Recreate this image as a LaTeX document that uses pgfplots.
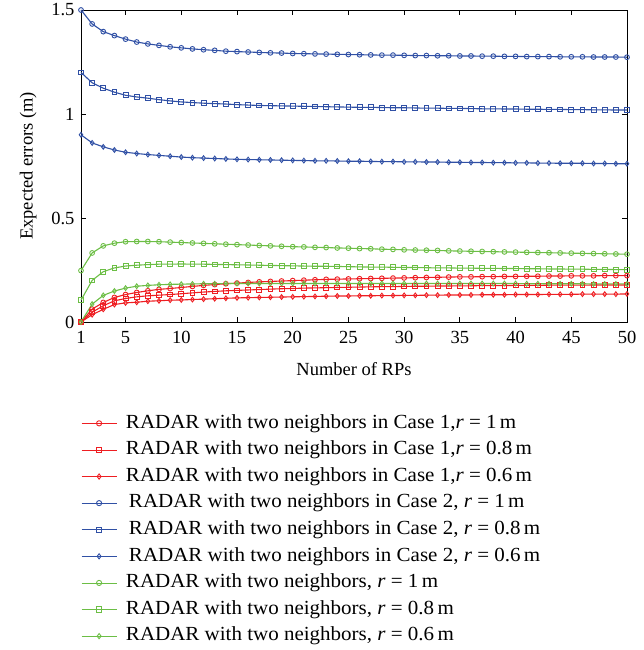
\documentclass[border=0pt]{standalone}
\usepackage{pgfplots}
\pgfplotsset{compat=1.18}
\usepackage{pgfplotstable}
\usepackage{fontspec}
\setmainfont{Liberation Serif}
\newfontfamily\legfont[FakeStretch=1.05]{Liberation Serif}
\definecolor{cred}{RGB}{238,30,34}
\definecolor{cblue}{RGB}{48,80,165}
\definecolor{cgreen}{RGB}{108,190,69}
\pgfplotstableread{
x bc bs bd gc gs gd rc rs rd
1 1.500 1.200 0.900 0.247 0.105 0.000 0.000 0.000 0.000
2 1.433 1.150 0.861 0.332 0.200 0.086 0.062 0.047 0.035
3 1.396 1.124 0.842 0.366 0.242 0.128 0.094 0.078 0.061
4 1.377 1.105 0.827 0.379 0.260 0.149 0.118 0.102 0.084
5 1.360 1.090 0.816 0.386 0.269 0.163 0.132 0.113 0.092
6 1.346 1.082 0.810 0.387 0.273 0.172 0.142 0.121 0.095
7 1.337 1.076 0.805 0.387 0.276 0.176 0.150 0.126 0.100
8 1.330 1.069 0.801 0.386 0.278 0.179 0.157 0.129 0.102
9 1.323 1.063 0.797 0.384 0.278 0.181 0.161 0.132 0.105
10 1.318 1.058 0.793 0.382 0.279 0.182 0.166 0.136 0.106
11 1.313 1.055 0.790 0.380 0.278 0.183 0.171 0.140 0.108
12 1.309 1.052 0.788 0.378 0.278 0.184 0.176 0.144 0.110
13 1.306 1.050 0.786 0.376 0.277 0.184 0.180 0.147 0.112
14 1.302 1.048 0.784 0.374 0.276 0.185 0.184 0.150 0.114
15 1.300 1.045 0.782 0.372 0.275 0.185 0.187 0.152 0.116
16 1.298 1.043 0.781 0.370 0.274 0.185 0.190 0.154 0.117
17 1.296 1.041 0.780 0.368 0.273 0.185 0.193 0.156 0.118
18 1.294 1.040 0.779 0.366 0.272 0.185 0.195 0.158 0.119
19 1.293 1.039 0.778 0.364 0.271 0.185 0.197 0.160 0.120
20 1.291 1.038 0.777 0.362 0.270 0.185 0.199 0.161 0.121
21 1.290 1.037 0.776 0.361 0.269 0.185 0.201 0.163 0.122
22 1.289 1.036 0.775 0.359 0.268 0.185 0.203 0.164 0.123
23 1.288 1.035 0.775 0.358 0.268 0.185 0.205 0.165 0.124
24 1.287 1.034 0.774 0.356 0.267 0.185 0.206 0.166 0.125
25 1.286 1.033 0.773 0.355 0.266 0.185 0.207 0.167 0.125
26 1.285 1.032 0.773 0.353 0.265 0.185 0.208 0.168 0.126
27 1.284 1.032 0.772 0.352 0.264 0.185 0.209 0.169 0.126
28 1.283 1.031 0.771 0.350 0.264 0.185 0.210 0.170 0.127
29 1.283 1.030 0.771 0.349 0.263 0.185 0.211 0.170 0.127
30 1.282 1.030 0.770 0.347 0.262 0.185 0.212 0.171 0.128
31 1.281 1.029 0.770 0.346 0.262 0.185 0.213 0.172 0.128
32 1.281 1.028 0.769 0.345 0.261 0.185 0.214 0.172 0.129
33 1.280 1.028 0.769 0.344 0.260 0.185 0.215 0.173 0.129
34 1.280 1.027 0.768 0.342 0.260 0.185 0.216 0.173 0.130
35 1.279 1.027 0.768 0.341 0.259 0.185 0.217 0.174 0.130
36 1.279 1.026 0.767 0.340 0.259 0.185 0.217 0.174 0.130
37 1.278 1.025 0.767 0.339 0.258 0.185 0.218 0.175 0.131
38 1.278 1.025 0.766 0.338 0.258 0.185 0.218 0.175 0.131
39 1.277 1.024 0.766 0.337 0.257 0.185 0.219 0.175 0.131
40 1.277 1.024 0.765 0.336 0.257 0.185 0.219 0.176 0.132
41 1.276 1.023 0.765 0.335 0.256 0.184 0.220 0.176 0.132
42 1.276 1.023 0.764 0.334 0.256 0.184 0.220 0.176 0.132
43 1.276 1.022 0.764 0.333 0.255 0.184 0.221 0.177 0.133
44 1.275 1.022 0.763 0.332 0.255 0.184 0.221 0.177 0.133
45 1.275 1.021 0.763 0.331 0.254 0.184 0.222 0.177 0.133
46 1.275 1.021 0.763 0.330 0.254 0.184 0.222 0.177 0.134
47 1.274 1.020 0.762 0.329 0.253 0.183 0.222 0.178 0.134
48 1.274 1.020 0.762 0.328 0.253 0.183 0.223 0.178 0.134
49 1.274 1.019 0.761 0.327 0.252 0.183 0.223 0.178 0.134
50 1.273 1.019 0.761 0.326 0.252 0.183 0.223 0.178 0.135
}\data
\begin{document}
\begin{tikzpicture}[font=\fontsize{18.5}{22}\selectfont]
\begin{axis}[
  at={(0pt,0pt)}, anchor=south west,
  scale only axis,
  width=546pt, height=312pt,
  xmin=1, xmax=50, ymin=0, ymax=1.5,
  xtick={1,5,10,15,20,25,30,35,40,45,50},
  ytick={0,0.5,1,1.5},
  yticklabels={0,0.5,1,1.5},
  tick align=inside,
  tick style={black, line width=0.8pt},
  major tick length=5pt,
  axis line style={black, line width=0.9pt},
  /pgf/number format/assume math mode=true,
  xlabel={Number of RPs},
  ylabel={Expected errors (m)},
  xlabel style={yshift=-12pt},
  ylabel shift=8pt,
  xticklabel style={yshift=-6pt},
  yticklabel style={xshift=-3pt},
  every axis plot/.append style={line width=1.1pt, mark size=2.4pt, mark options={solid, fill=white, line width=0.9pt}},
  legend style={at={(0,-0.2945)}, anchor=north west, draw=none, fill=none,
    inner sep=0pt, row sep=8.1pt, cells={anchor=west},
    font=\legfont\fontsize{20}{24}\selectfont,
    nodes={inner sep=0pt, text height=14pt, text depth=4.5pt}},
  legend image code/.code={\draw[mark repeat=2, mark phase=2, line width=0.8pt, mark size=2.6pt] plot coordinates {(-1pt,0pt) (16.5pt,0pt) (34pt,0pt)};},
  clip=false,
]
\addplot[cred, mark=o] table[x=x, y=rc] {\data};
\addlegendentry{\hspace{9pt}RADAR with two neighbors in Case 1,\textit{r} = 1\,m}
\addplot[cred, mark=square] table[x=x, y=rs] {\data};
\addlegendentry{\hspace{9pt}RADAR with two neighbors in Case 1,\textit{r} = 0.8\,m}
\addplot[cred, mark=diamond] table[x=x, y=rd] {\data};
\addlegendentry{\hspace{9pt}RADAR with two neighbors in Case 1,\textit{r} = 0.6\,m}
\addplot[cblue, mark=o] table[x=x, y=bc] {\data};
\addlegendentry{\hspace{12pt}RADAR with two neighbors in Case 2, \textit{r} = 1\,m}
\addplot[cblue, mark=square] table[x=x, y=bs] {\data};
\addlegendentry{\hspace{12pt}RADAR with two neighbors in Case 2, \textit{r} = 0.8\,m}
\addplot[cblue, mark=diamond] table[x=x, y=bd] {\data};
\addlegendentry{\hspace{12pt}RADAR with two neighbors in Case 2, \textit{r} = 0.6\,m}
\addplot[cgreen, mark=o] table[x=x, y=gc] {\data};
\addlegendentry{\hspace{9pt}RADAR with two neighbors, \textit{r} = 1\,m}
\addplot[cgreen, mark=square] table[x=x, y=gs] {\data};
\addlegendentry{\hspace{9pt}RADAR with two neighbors, \textit{r} = 0.8\,m}
\addplot[cgreen, mark=diamond] table[x=x, y=gd] {\data};
\addlegendentry{\hspace{9pt}RADAR with two neighbors, \textit{r} = 0.6\,m}
\end{axis}
\pgfresetboundingbox
\useasboundingbox (-81pt,-328pt) rectangle (562pt,322pt);
\end{tikzpicture}
\end{document}
